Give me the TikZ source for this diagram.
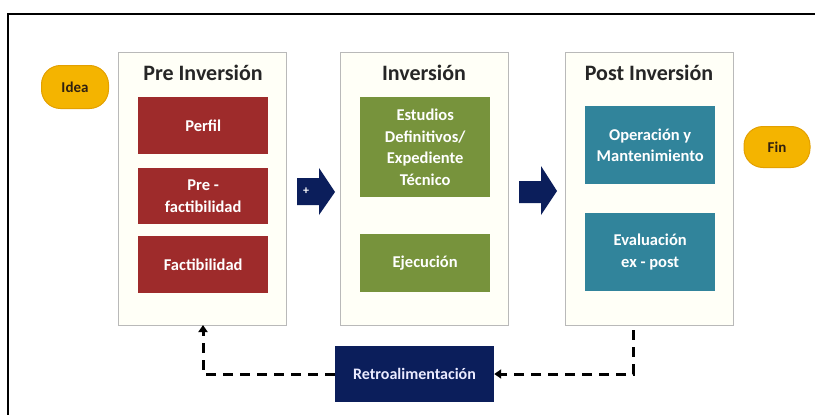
\documentclass[tikz,border=0pt]{standalone}
\usepackage{fontspec}
\setmainfont{Carlito}
\usetikzlibrary{calc,arrows.meta}

\definecolor{rojo}{HTML}{9E2B2B}
\definecolor{verde}{HTML}{77933C}
\definecolor{azulv}{HTML}{31849B}
\definecolor{marino}{HTML}{0B1E5B}
\definecolor{oro}{HTML}{F4B400}
\definecolor{oroborde}{HTML}{E3A000}
\definecolor{crema}{HTML}{FFFFF7}

\begin{document}
\begin{tikzpicture}[x=1pt,y=-1pt,
    panel/.style={draw=gray!55, fill=crema, line width=1.2pt, anchor=north west,
      minimum width=168pt, minimum height=273pt, inner sep=0pt},
    titulo/.style={font=\bfseries\fontsize{22}{24}\selectfont, text=black!85},
    caja/.style={anchor=north west, inner sep=0pt, minimum width=130pt,
      text=white, align=center, font=\bfseries\fontsize{16.5}{21.5}\selectfont},
    ovalo/.style={draw=oroborde, fill=oro, line width=1pt, rounded corners=19pt,
      inner sep=0pt, text=black!75!brown, font=\bfseries\fontsize{15}{17}\selectfont},
    flecha/.style={fill=marino},
    retro/.style={dash pattern=on 10pt off 7pt, line width=3pt,
      -{Triangle[length=7pt,width=9pt]}}]
  \useasboundingbox (0,0) rectangle (815,415);
  % marco
  \draw[line width=1.5pt] (8,415) -- (8,14) -- (815,14);

  % etapas
  \node[panel] (pre) at (118,52) {};
  \node[panel] (inv) at (340,52) {};
  \node[panel] (post) at (565,52) {};
  \node[titulo] (tpre) at (203,73) {Pre Inversión};
  \node[titulo] (tinv) at (424,73) {Inversión};
  \node[titulo] (tpost) at (649,73) {Post Inversión};

  % pre inversion
  \node[caja, fill=rojo, minimum height=57pt] (perfil) at (138,97) {Perfil};
  \node[caja, fill=rojo, minimum height=56pt] (prefact) at (138,168) {Pre -\\factibilidad};
  \node[caja, fill=rojo, minimum height=57pt] (fact) at (138,236) {Factibilidad};

  % inversion
  \node[caja, fill=verde, minimum height=100pt] (estudios) at (360,97)
    {Estudios\\Definitivos/\\Expediente\\Técnico};
  \node[caja, fill=verde, minimum height=58pt] (ejec) at (360,234) {Ejecución};

  % post inversion
  \node[caja, fill=azulv, minimum height=78pt] (oper) at (585,106)
    {Operación y\\Mantenimiento};
  \node[caja, fill=azulv, minimum height=78pt] (eval) at (585,213)
    {Evaluación\\ex - post};

  % inicio y fin
  \node[ovalo, minimum width=67pt, minimum height=43pt] (idea) at (75,87) {Idea};
  \node[ovalo, minimum width=66pt, minimum height=41pt] (fin) at (777,147) {Fin};

  % flechas grandes
  \fill[flecha] (297,178) -- (319,178) -- (319,168) -- (335,192)
    -- (319,215) -- (319,205) -- (297,205) -- cycle;
  \node[text=white, font=\bfseries\fontsize{12}{12}\selectfont] (mas) at (306,191) {+};
  \fill[flecha] (519,181) -- (541,181) -- (541,166) -- (557,191)
    -- (541,215) -- (541,203) -- (519,203) -- cycle;

  % retroalimentacion
  \node[fill=marino, minimum width=159pt, minimum height=56pt, inner sep=0pt,
    text=blue!8!white, font=\bfseries\fontsize{16}{18}\selectfont] (ret) at (414.5,374)
    {Retroalimentación};
  \coordinate (bpost) at (633,330);
  \coordinate (bpre) at (203,325);
  \draw[retro] (bpost) |- (ret.east);
  \draw[retro] (ret.west) -| (bpre);
\end{tikzpicture}
\end{document}
